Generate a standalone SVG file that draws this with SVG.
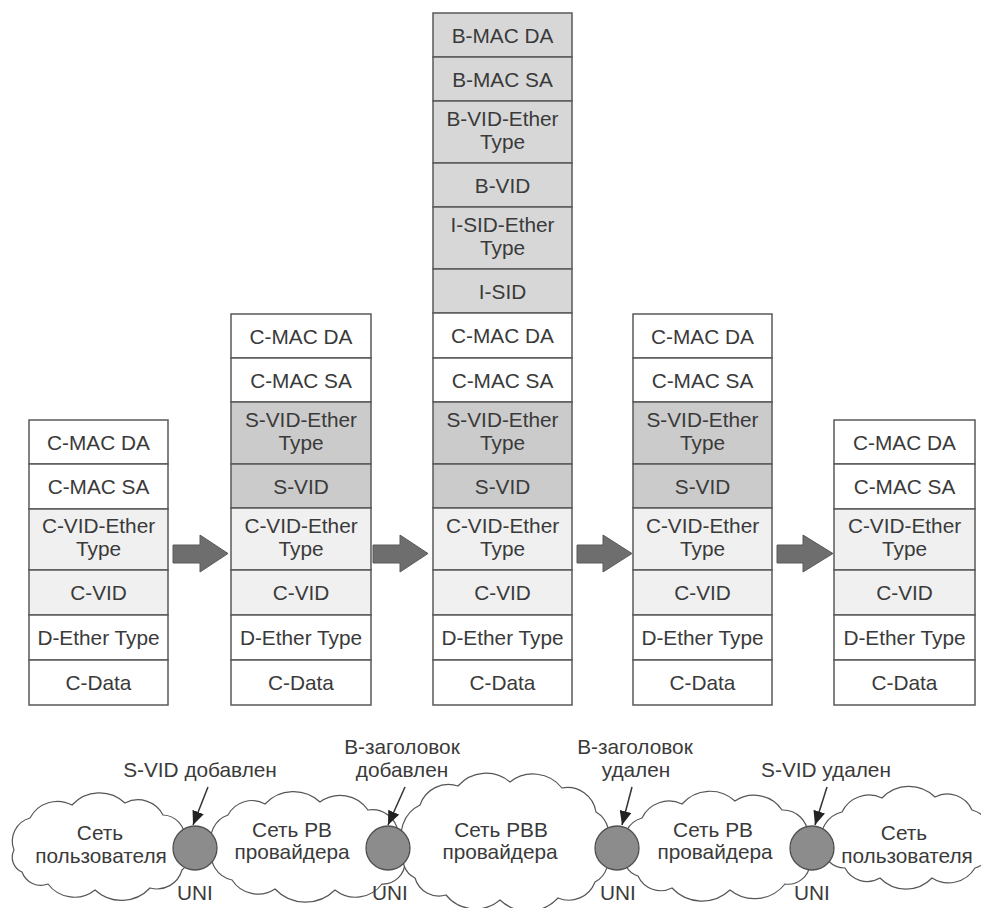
<svg xmlns="http://www.w3.org/2000/svg" width="981" height="908" viewBox="0 0 981 908">
<defs>
<style>
.cell{stroke:#595959;stroke-width:1.5}
.w{fill:#ffffff}
.l{fill:#f0f0f0}
.s{fill:#cbcbcb}
.b{fill:#d7d7d7}
text{font-family:"Liberation Sans",Arial,sans-serif;font-size:20.8px;fill:#3a3a3a;text-anchor:middle}
.cloud{fill:#ffffff;stroke:#555555;stroke-width:1.2}
.node{fill:#8c8c8c;stroke:#505050;stroke-width:1.3}
.big{fill:#6e6e6e;stroke:#5a5a5a;stroke-width:1}
.pt{stroke:#333;stroke-width:1.5;fill:none}
</style>
<marker id="ah" viewBox="0 0 14 12" refX="14" refY="6" markerWidth="14" markerHeight="12" markerUnits="userSpaceOnUse" orient="auto">
<path d="M0,0 L14,6 L0,12 z" fill="#222"/>
</marker>
</defs>
<rect width="981" height="908" fill="#ffffff"/>

<g id="frame1">
<rect class="cell w" x="29" y="420" width="139" height="44"/><text x="98.5" y="449.5">C-MAC DA</text>
<rect class="cell w" x="29" y="464" width="139" height="45"/><text x="98.5" y="494">C-MAC SA</text>
<rect class="cell l" x="29" y="509" width="139" height="61"/><text x="98.5" y="533">C-VID-Ether</text><text x="98.5" y="556">Type</text>
<rect class="cell l" x="29" y="570" width="139" height="45"/><text x="98.5" y="600">C-VID</text>
<rect class="cell w" x="29" y="615" width="139" height="45"/><text x="98.5" y="645">D-Ether Type</text>
<rect class="cell w" x="29" y="660" width="139" height="45"/><text x="98.5" y="690">C-Data</text>
</g>

<g id="frame2">
<rect class="cell w" x="231" y="314" width="140" height="44"/><text x="301" y="343.5">C-MAC DA</text>
<rect class="cell w" x="231" y="358" width="140" height="44"/><text x="301" y="387.5">C-MAC SA</text>
<rect class="cell s" x="231" y="402" width="140" height="62"/><text x="301" y="427">S-VID-Ether</text><text x="301" y="450">Type</text>
<rect class="cell s" x="231" y="464" width="140" height="44"/><text x="301" y="493.5">S-VID</text>
<rect class="cell l" x="231" y="508" width="140" height="62"/><text x="301" y="533">C-VID-Ether</text><text x="301" y="556">Type</text>
<rect class="cell l" x="231" y="570" width="140" height="45"/><text x="301" y="600">C-VID</text>
<rect class="cell w" x="231" y="615" width="140" height="45"/><text x="301" y="645">D-Ether Type</text>
<rect class="cell w" x="231" y="660" width="140" height="45"/><text x="301" y="690">C-Data</text>
</g>

<g id="frame3">
<rect class="cell b" x="433" y="13" width="139" height="44"/><text x="502.5" y="42.5">B-MAC DA</text>
<rect class="cell b" x="433" y="57" width="139" height="44"/><text x="502.5" y="86.5">B-MAC SA</text>
<rect class="cell b" x="433" y="101" width="139" height="62"/><text x="502.5" y="126">B-VID-Ether</text><text x="502.5" y="149">Type</text>
<rect class="cell b" x="433" y="163" width="139" height="44"/><text x="502.5" y="192.5">B-VID</text>
<rect class="cell b" x="433" y="207" width="139" height="62"/><text x="502.5" y="232">I-SID-Ether</text><text x="502.5" y="255">Type</text>
<rect class="cell b" x="433" y="269" width="139" height="44"/><text x="502.5" y="298.5">I-SID</text>
<rect class="cell w" x="433" y="313" width="139" height="45"/><text x="502.5" y="343">C-MAC DA</text>
<rect class="cell w" x="433" y="358" width="139" height="44"/><text x="502.5" y="387.5">C-MAC SA</text>
<rect class="cell s" x="433" y="402" width="139" height="62"/><text x="502.5" y="427">S-VID-Ether</text><text x="502.5" y="450">Type</text>
<rect class="cell s" x="433" y="464" width="139" height="44"/><text x="502.5" y="493.5">S-VID</text>
<rect class="cell l" x="433" y="508" width="139" height="62"/><text x="502.5" y="533">C-VID-Ether</text><text x="502.5" y="556">Type</text>
<rect class="cell l" x="433" y="570" width="139" height="45"/><text x="502.5" y="600">C-VID</text>
<rect class="cell w" x="433" y="615" width="139" height="45"/><text x="502.5" y="645">D-Ether Type</text>
<rect class="cell w" x="433" y="660" width="139" height="45"/><text x="502.5" y="690">C-Data</text>
</g>

<g id="frame4">
<rect class="cell w" x="633" y="314" width="139" height="44"/><text x="702.5" y="343.5">C-MAC DA</text>
<rect class="cell w" x="633" y="358" width="139" height="44"/><text x="702.5" y="387.5">C-MAC SA</text>
<rect class="cell s" x="633" y="402" width="139" height="62"/><text x="702.5" y="427">S-VID-Ether</text><text x="702.5" y="450">Type</text>
<rect class="cell s" x="633" y="464" width="139" height="44"/><text x="702.5" y="493.5">S-VID</text>
<rect class="cell l" x="633" y="508" width="139" height="62"/><text x="702.5" y="533">C-VID-Ether</text><text x="702.5" y="556">Type</text>
<rect class="cell l" x="633" y="570" width="139" height="45"/><text x="702.5" y="600">C-VID</text>
<rect class="cell w" x="633" y="615" width="139" height="45"/><text x="702.5" y="645">D-Ether Type</text>
<rect class="cell w" x="633" y="660" width="139" height="45"/><text x="702.5" y="690">C-Data</text>
</g>

<g id="frame5">
<rect class="cell w" x="834" y="420" width="141" height="44"/><text x="904.5" y="449.5">C-MAC DA</text>
<rect class="cell w" x="834" y="464" width="141" height="45"/><text x="904.5" y="494">C-MAC SA</text>
<rect class="cell l" x="834" y="509" width="141" height="61"/><text x="904.5" y="533">C-VID-Ether</text><text x="904.5" y="556">Type</text>
<rect class="cell l" x="834" y="570" width="141" height="45"/><text x="904.5" y="600">C-VID</text>
<rect class="cell w" x="834" y="615" width="141" height="45"/><text x="904.5" y="645">D-Ether Type</text>
<rect class="cell w" x="834" y="660" width="141" height="45"/><text x="904.5" y="690">C-Data</text>
</g>

<g id="cloud1">
<path class="cloud" d="M14,850 A24,24 0 0 1 30,818 A31,31 0 0 1 72,805 A37,37 0 0 1 125,803 A28,28 0 0 1 163,815 A23,23 0 0 1 185,840 A21,21 0 0 1 182,870 A26,26 0 0 1 150,888 A39,39 0 0 1 95,890 A33,33 0 0 1 48,884 A20,20 0 0 1 22,872 A16,16 0 0 1 14,850 Z"/>
<text x="100" y="840">Сеть</text><text x="101" y="863">пользователя</text>
</g>
<g id="cloud2">
<path class="cloud" d="M212,848 A26,26 0 0 1 228,815 A27,27 0 0 1 265,804 A39,39 0 0 1 320,802 A34,34 0 0 1 368,810 A26,26 0 0 1 398,832 A22,22 0 0 1 405,862 A22,22 0 0 1 382,884 A33,33 0 0 1 335,890 A42,42 0 0 1 275,889 A31,31 0 0 1 232,880 A26,26 0 0 1 212,848 Z"/>
<text x="292" y="837">Сеть РВ</text><text x="292" y="859">провайдера</text>
</g>
<g id="cloud3">
<path class="cloud" d="M405,850 A33,33 0 0 1 420,805 A30,30 0 0 1 458,786 A37,37 0 0 1 510,782 A37,37 0 0 1 562,788 A29,29 0 0 1 596,812 A26,26 0 0 1 605,848 A25,25 0 0 1 595,882 A28,28 0 0 1 558,898 A41,41 0 0 1 500,900 A38,38 0 0 1 446,895 A25,25 0 0 1 415,878 A21,21 0 0 1 405,850 Z"/>
<text x="501" y="837">Сеть РВВ</text><text x="500" y="859">провайдера</text>
</g>
<g id="cloud4">
<path class="cloud" d="M625,850 A25,25 0 0 1 642,818 A30,30 0 0 1 682,804 A37,37 0 0 1 735,801 A34,34 0 0 1 782,810 A25,25 0 0 1 808,835 A20,20 0 0 1 810,864 A22,22 0 0 1 785,884 A39,39 0 0 1 730,890 A41,41 0 0 1 672,888 A25,25 0 0 1 638,876 A20,20 0 0 1 625,850 Z"/>
<text x="713" y="837">Сеть РВ</text><text x="715" y="859">провайдера</text>
</g>
<g id="cloud5">
<path class="cloud" d="M822,845 A27,27 0 0 1 842,812 A30,30 0 0 1 882,798 A37,37 0 0 1 935,797 A27,27 0 0 1 972,810 A25,25 0 0 1 990,840 A22,22 0 0 1 975,868 A31,31 0 0 1 932,878 A36,36 0 0 1 880,878 A25,25 0 0 1 845,868 A23,23 0 0 1 822,845 Z"/>
<text x="904" y="840">Сеть</text><text x="907" y="863">пользователя</text>
</g>

<g id="uni1"><circle class="node" cx="195" cy="848" r="22"/><text x="195" y="900">UNI</text></g>
<g id="uni2"><circle class="node" cx="388" cy="848" r="22"/><text x="390" y="900">UNI</text></g>
<g id="uni3"><circle class="node" cx="617" cy="848" r="22"/><text x="618" y="900">UNI</text></g>
<g id="uni4"><circle class="node" cx="812" cy="848" r="22"/><text x="812" y="900">UNI</text></g>

<g id="label1"><text x="200" y="777">S-VID добавлен</text></g>
<g id="label2"><text x="402" y="754">B-заголовок</text><text x="402" y="777">добавлен</text></g>
<g id="label3"><text x="635" y="754">B-заголовок</text><text x="636" y="777">удален</text></g>
<g id="label4"><text x="826" y="777">S-VID удален</text></g>

<g id="connectors">
<polygon class="big" points="173,545 200,545 200,535 228,553.5 200,572 200,563 173,563"/>
<polygon class="big" points="373,545 400,545 400,535 428,553.5 400,572 400,563 373,563"/>
<polygon class="big" points="577,545 603,545 603,535 632,553.5 603,572 603,563 577,563"/>
<polygon class="big" points="777,545 803,545 803,535 833,553.5 803,572 803,563 777,563"/>
<line class="pt" x1="208" y1="787" x2="193" y2="825" marker-end="url(#ah)"/>
<line class="pt" x1="405" y1="787" x2="388" y2="825" marker-end="url(#ah)"/>
<line class="pt" x1="632" y1="787" x2="622" y2="825" marker-end="url(#ah)"/>
<line class="pt" x1="827" y1="787" x2="815" y2="825" marker-end="url(#ah)"/>
</g>
</svg>
